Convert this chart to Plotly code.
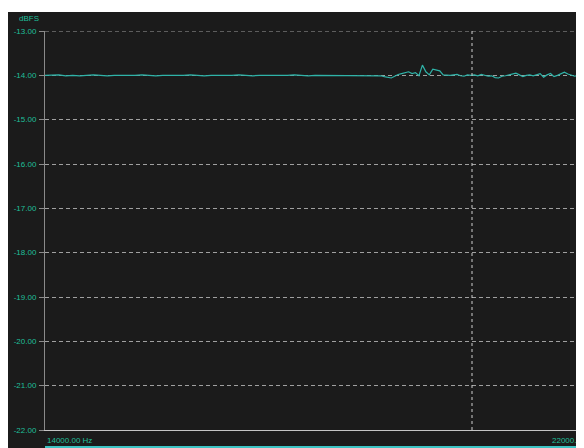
import numpy as np
import plotly.graph_objects as go

# frequency grid (Hz): coarse in the flat part, finer where the trace wiggles
freq_flat = np.arange(14000, 18800, 100)
freq_fine = np.arange(18800, 21850, 50)

level_flat = [
    -14.00, -14.00, -13.99, -14.01, -14.00, -14.01, -14.00, -13.99, -14.00, -14.01,
    -14.00, -14.00, -14.01, -14.00, -13.99, -14.00, -14.01, -14.00, -14.00, -14.01,
    -14.00, -13.99, -14.00, -14.01, -14.00, -14.00, -14.01, -14.00, -13.99, -14.00,
    -14.01, -14.00, -14.00, -14.01, -14.00, -14.00, -13.99, -14.00, -14.01, -14.00,
    -14.00, -14.00, -14.01, -14.00, -14.00, -14.01, -14.00, -14.00,
]
level_fine = [
    -14.00, -14.01, -14.03, -14.05, -14.06, -14.02, -13.98, -13.96, -13.94, -13.92,
    -13.96, -13.94, -14.01, -13.77, -13.92, -13.99, -13.86, -13.88, -13.90, -13.99,
    -14.00, -14.00, -13.99, -13.98, -14.01, -14.02, -13.99, -14.00, -13.99, -14.01,
    -13.98, -14.00, -14.02, -14.01, -14.05, -14.06, -14.02, -14.01, -13.99, -13.97,
    -13.95, -13.99, -14.03, -14.00, -13.99, -14.01, -13.98, -13.96, -14.04, -13.99,
    -13.96, -14.03, -14.00, -13.97, -13.93, -13.97, -13.99, -14.02, -14.00, -13.97,
    -13.99,
]
freq = list(freq_flat) + list(freq_fine)
level = level_flat + level_fine

y_ticks = [-13, -14, -15, -16, -17, -18, -19, -20, -21, -22]
y_tick_labels = ["%.2f" % v for v in y_ticks]
x_start, x_end = 14000, 22000
x_start_label = "14000.00 Hz"
x_end_label = "22000.00 Hz"
marker_freq = 20166

BG = "#1b1b1b"
TEAL = "#1fbf9a"
LINE = "#2fb3a8"
GRID = "#a0a0a0"

# page body has an 8px margin, so the figure is 576x440
W, H = 576, 440
ML, MR, MT, MB = 37, 0, 23, 18
plot_w = W - ML - MR
plot_h = H - MT - MB
# pixel scale: 14000 at the axis, 22000 at 554 px to the right (beyond the edge)
span_px = 554.0
hz_per_px = (x_end - x_start) / span_px
x_range_end = x_start + plot_w * hz_per_px

fig = go.Figure()
fig.add_trace(go.Scatter(x=freq, y=level, mode="lines",
                         line=dict(color=LINE, width=1.2), hoverinfo="skip"))

fig.update_layout(
    width=W, height=H,
    margin=dict(l=ML, r=MR, t=MT, b=MB),
    paper_bgcolor=BG, plot_bgcolor=BG,
    showlegend=False,
    font=dict(family="Liberation Sans, Arial", size=8, color=TEAL),
)
fig.update_xaxes(
    range=[x_start, x_range_end], showgrid=False, zeroline=False,
    showticklabels=False, ticks="",
    showline=True, linecolor="#c4c4c4", linewidth=1,
)
fig.update_yaxes(
    range=[-22, -13], tickvals=y_ticks, ticktext=y_tick_labels,
    showgrid=True, gridcolor=GRID, griddash="4px,3px", gridwidth=1,
    zeroline=False, showline=True, linecolor="#8a8a8a", linewidth=1,
    ticks="outside", ticklen=5, tickcolor="#8a8a8a",
    tickfont=dict(size=8, color=TEAL), ticklabelstandoff=1,
)

px_y = 1.0 / plot_h
px_x = 1.0 / plot_w
shapes = [
    # top grid line (at range edge)
    dict(type="line", xref="paper", yref="y", x0=0, x1=1, y0=-13, y1=-13,
         line=dict(color=GRID, width=1, dash="4px,3px"), layer="below"),
    # vertical marker line
    dict(type="line", xref="x", yref="paper", x0=marker_freq, x1=marker_freq,
         y0=0, y1=1, line=dict(color="#d0d0d0", width=1, dash="dot")),
    # white strip at the very top
    dict(type="rect", xref="paper", yref="paper",
         x0=-ML * px_x - 0.01, x1=1.01, y0=1 + (MT - 4) * px_y, y1=1 + MT * px_y + 0.01,
         fillcolor="white", line=dict(width=0), layer="above"),
    # teal bar at the very bottom
    dict(type="rect", xref="paper", yref="paper",
         x0=0, x1=1.01, y0=-MB * px_y - 0.01, y1=-(MB - 2) * px_y,
         fillcolor="#3cc4c4", line=dict(width=0), layer="above"),
]
fig.update_layout(shapes=shapes)

fig.add_annotation(xref="paper", yref="paper", x=-(ML - 9) * px_x, y=1 + (MT - 17) * px_y,
                   text="dBFS", showarrow=False, xanchor="left", yanchor="bottom",
                   font=dict(size=8, color=TEAL))
fig.add_annotation(xref="paper", yref="paper", x=0, y=-4 * px_y,
                   text=x_start_label, showarrow=False, xanchor="left", yanchor="top",
                   font=dict(size=8, color=TEAL))
fig.add_annotation(xref="paper", yref="paper", x=span_px / plot_w, y=-4 * px_y,
                   text=x_end_label, showarrow=False, xanchor="right", yanchor="top",
                   font=dict(size=8, color=TEAL))

fig.write_html("out.html")
